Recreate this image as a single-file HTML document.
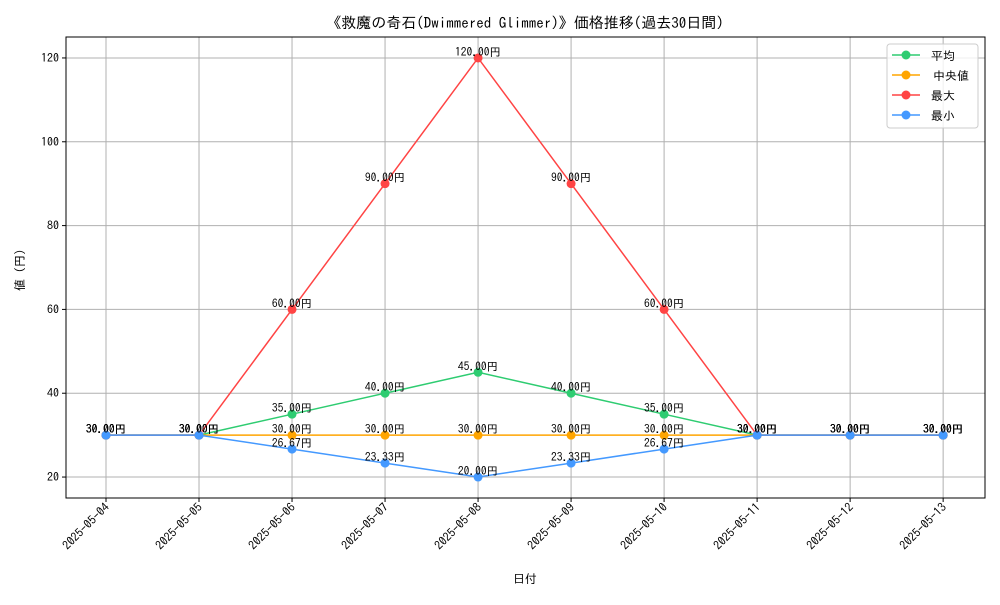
<!DOCTYPE html>
<html><head><meta charset="utf-8"><style>
body{margin:0;background:#fff}
svg text{font-family:"IPAGothic","Noto Sans CJK JP",monospace;fill:#000}
</style></head><body>
<svg id="c" width="1000" height="600" xmlns="http://www.w3.org/2000/svg">
<rect width="1000" height="600" fill="#fff"/>
<text x="525" y="28" font-size="15" text-anchor="middle">《救魔の奇石(Dwimmered Glimmer)》価格推移(過去30日間)</text>
<text x="525" y="583" font-size="12" text-anchor="middle">日付</text>
<text transform="translate(24,270) rotate(-90)" font-size="12" text-anchor="middle">値 (円)</text>
<g id="grid"></g><g id="series"></g><g id="axes"></g>
<g>
<rect x="887" y="44" width="91" height="84" rx="3" fill="#fff" fill-opacity="0.8" stroke="#ccc"/>
<g id="leg"></g></g>
</svg>
<script>
const dates=["2025-05-04","2025-05-05","2025-05-06","2025-05-07","2025-05-08","2025-05-09","2025-05-10","2025-05-11","2025-05-12","2025-05-13"];
const avgVals=[30,30,35,40,45,40,35,30,30,30];
const medianVals=[30,30,30,30,30,30,30,30,30,30];
const maxVals=[30,30,60,90,120,90,60,30,30,30];
const minVals=[30,30,26.67,23.33,20,23.33,26.67,30,30,30];
const yTicks=[20,40,60,80,100,120];
const seriesNames=["平均","中央値","最大","最小"];
const L=66,R=985,T=37,B=498,X0=-0.43,X1=9.45,Y0=15,Y1=125;
const NS="http://www.w3.org/2000/svg";
const xs=i=>L+(i-X0)/(X1-X0)*(R-L);
const ys=v=>B-(v-Y0)/(Y1-Y0)*(B-T);
function mk(t,a,p){const e=document.createElementNS(NS,t);for(const k in a)e.setAttribute(k,a[k]);p.appendChild(e);return e;}
const grid=document.getElementById('grid'),axes=document.getElementById('axes'),ser=document.getElementById('series'),leg=document.getElementById('leg');
dates.forEach((d,i)=>{const x=xs(i);
 const g=mk('line',{x1:x,x2:x,y1:T,y2:B,stroke:'#b0b0b0','stroke-width':1},grid);
 
 
 mk('line',{x1:x,x2:x,y1:B,y2:B+4,stroke:'#000'},axes);
 const t=mk('text',{transform:`translate(${x+4},${B+10}) rotate(-45)`,'font-size':12,'text-anchor':'end'},axes);
 t.textContent=d;
 
 
});
yTicks.forEach(v=>{const y=ys(v);
 const g=mk('line',{x1:L,x2:R,y1:y,y2:y,stroke:'#b0b0b0','stroke-width':1},grid);
 
 
 mk('line',{x1:L-4,x2:L,y1:y,y2:y,stroke:'#000'},axes);
 const t=mk('text',{x:L-7,y:y+4,'font-size':12,'text-anchor':'end'},axes);
 t.textContent=v;
 
 
});
const fr=mk('rect',{x:L,y:T,width:R-L,height:B-T,fill:'none',stroke:'#000'},axes);


const all=[avgVals,medianVals,maxVals,minVals];
const colors=["#2ecc71","#ffa500","#ff4444","#4499ff"];
const keys=["avg","median","max","min"];
all.forEach((vals,s)=>{
 const g=mk('g',{},ser);
 
 
 const pl=mk('polyline',{points:vals.map((v,i)=>xs(i)+','+ys(v)).join(' '),fill:'none',stroke:colors[s],'stroke-width':1.5},g);
 
 
 vals.forEach((v,i)=>{
  const c=mk('circle',{cx:xs(i),cy:ys(v),r:4.5,fill:colors[s]},g);
  
  
  const t=mk('text',{x:xs(i),y:ys(v)-2,'font-size':11.5,'text-anchor':'middle'},g);
  t.textContent=v.toFixed(2)+'円';
  
  
 });
 const y=55+s*20;
 const lg=mk('g',{},leg);
 
 
 mk('line',{x1:892,x2:920,y1:y,y2:y,stroke:colors[s],'stroke-width':1.5},lg);
 mk('circle',{cx:906,cy:y,r:4.5,fill:colors[s]},lg);
 const lt=mk('text',{x:s==1?933:931,y:y+5,'font-size':12},lg);
 lt.textContent=seriesNames[s];
});
</script>
</body></html>
